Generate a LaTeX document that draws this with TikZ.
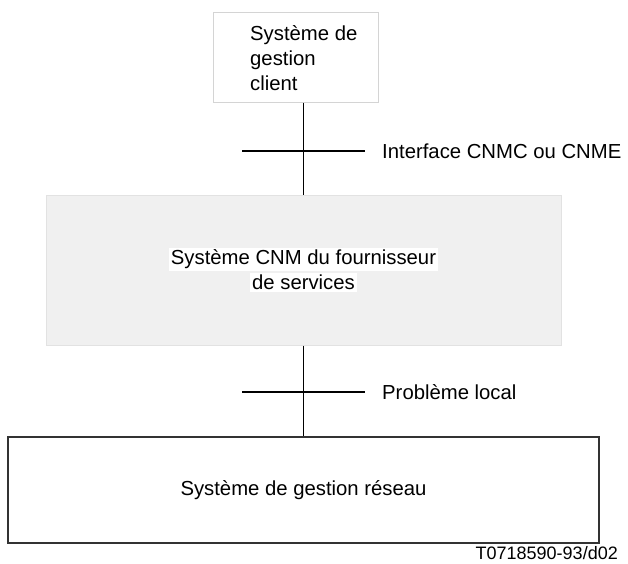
\documentclass[tikz,border=0pt]{standalone}
\usepackage{fontspec}
\setmainfont{Liberation Sans}
\usepackage{tikz}
\usetikzlibrary{positioning}

\definecolor{cnmfill}{RGB}{240,240,240}
\definecolor{cnmdraw}{RGB}{226,226,226}
\definecolor{clientdraw}{RGB}{212,212,212}
\setlength{\fboxsep}{1.8pt}

\begin{document}
\begin{tikzpicture}
	[x=1pt,y=-1pt,
	boxstyle/.style={draw=clientdraw,line width=1pt,fill=white,minimum width=165pt,minimum height=90pt,inner sep=0pt},
	greyboxstyle/.style={draw=cnmdraw,line width=1pt,fill=cnmfill,minimum width=515pt,minimum height=150pt,align=center,inner sep=0pt},
	netboxstyle/.style={draw=black!80,line width=1.2pt,fill=white,minimum width=591pt,minimum height=106pt,inner sep=0pt},
	textstyle/.style={font=\fontsize{20.3}{25}\selectfont},
	labelstyle/.style={textstyle,anchor=west,inner sep=0pt},
	linkstyle/.style={line width=1.4pt}
	]
	\useasboundingbox (0,0) rectangle (628,563);
	
	%Set params
	\def\tickhalf{61.5}
	\def\labeldist{17}
	
	\node(Client)[boxstyle] at (295.5,57) {};
	\node(ClientText)[textstyle,align=left,anchor=west,inner sep=0pt] at (250,58) {Système de\\gestion\\client};
	\node(CNM)[greyboxstyle, textstyle] at (303.5,270) {\colorbox{white}{Système CNM du fournisseur}\\\colorbox{white}{de services}};
	\node(Network)[netboxstyle, textstyle] at (303.5,490) {Système de gestion réseau};
	
	%Interfaces
	\draw[linkstyle] (Client.south -| CNM.north) -- (CNM.north);
	\coordinate (Tick1) at (303.5,151);
	\draw[linkstyle] ([xshift=-\tickhalf pt]Tick1) -- ([xshift=\tickhalf pt]Tick1) coordinate (Tick1End);
	\node(Iface)[labelstyle, right = \labeldist pt of Tick1End]{Interface CNMC ou CNME};
	
	\draw[linkstyle] (CNM.south) -- (Network.north);
	\coordinate (Tick2) at (303.5,392);
	\draw[linkstyle] ([xshift=-\tickhalf pt]Tick2) -- ([xshift=\tickhalf pt]Tick2) coordinate (Tick2End);
	\node(Local)[labelstyle, right = \labeldist pt of Tick2End]{Problème local};
	
	\node(Ref)[font=\fontsize{18}{22}\selectfont,anchor=east,inner sep=0pt] at (618,553) {T0718590-93/d02};
	
\end{tikzpicture}
\end{document}
